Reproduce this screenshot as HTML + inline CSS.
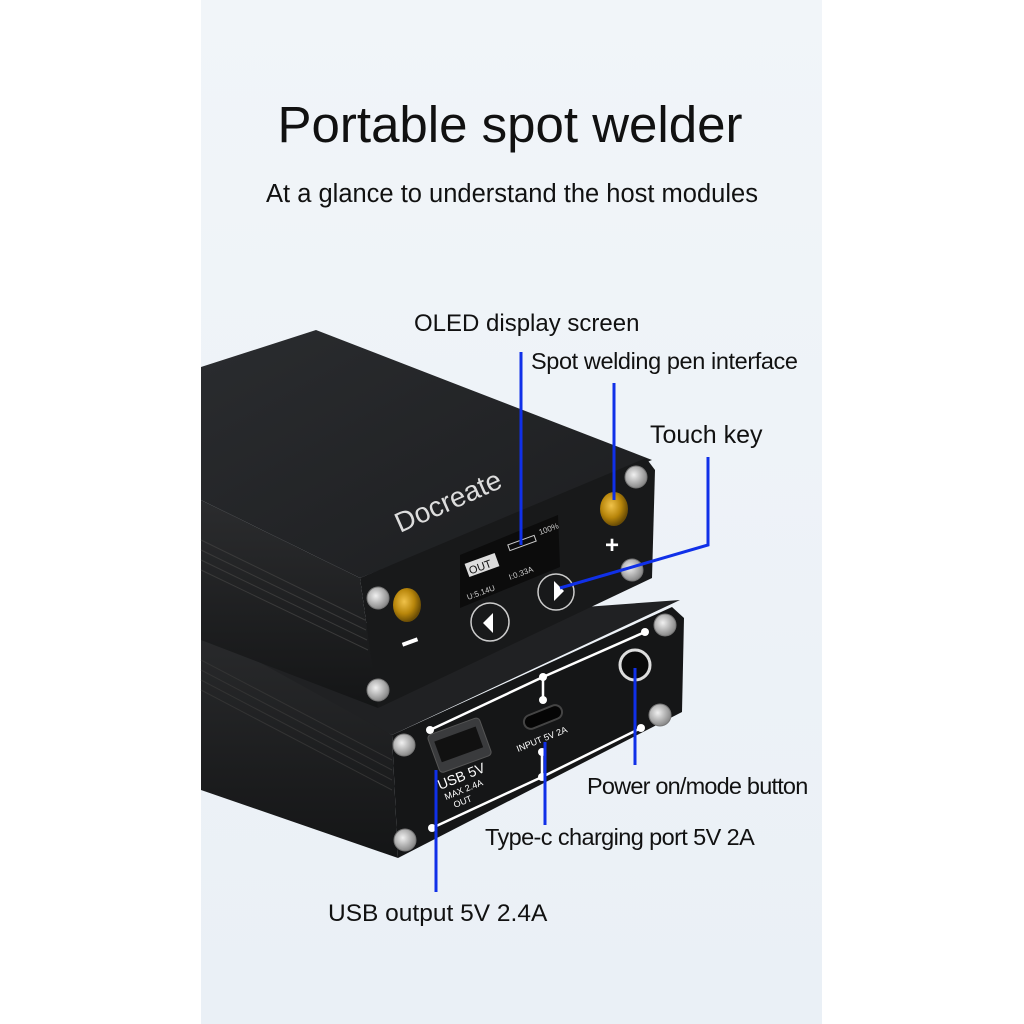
<!DOCTYPE html>
<html><head><meta charset="utf-8"><style>
html,body{margin:0;padding:0;background:#fff;}
body{width:1024px;height:1024px;position:relative;overflow:hidden;font-family:"Liberation Sans",sans-serif;}
.panel{position:absolute;left:201px;top:0;width:621px;height:1024px;background:linear-gradient(#f1f5f9,#eaf0f6);}
.t{position:absolute;color:#111;white-space:nowrap;}
</style></head><body>
<div class="panel"></div>
<svg width="1024" height="1024" style="position:absolute;left:0;top:0">
<defs>
<linearGradient id="top" x1="0" y1="0" x2="1" y2="1"><stop offset="0" stop-color="#2a2c2f"/><stop offset="1" stop-color="#1c1d1f"/></linearGradient>
<linearGradient id="side" x1="0" y1="0" x2="0" y2="1"><stop offset="0" stop-color="#2b2c2e"/><stop offset="1" stop-color="#141516"/></linearGradient>
<radialGradient id="gold" cx="0.4" cy="0.4" r="0.6"><stop offset="0" stop-color="#f0c24a"/><stop offset="0.6" stop-color="#b8860b"/><stop offset="1" stop-color="#6b4d05"/></radialGradient>
<radialGradient id="scr" cx="0.4" cy="0.4" r="0.6"><stop offset="0" stop-color="#f0f0f0"/><stop offset="1" stop-color="#8a8a8a"/></radialGradient>
</defs>
<polygon points="201,610 392,735 398,858 201,790" fill="url(#side)"/>
<polygon points="201,560 340,625 680,600 392,735 201,630" fill="#202123"/>
<polygon points="392,735 672,607 684,618 682,712 398,858" fill="#151617"/>
<g stroke="#333" stroke-width="1"><line x1="201" y1="660" x2="392" y2="760"/><line x1="201" y1="670" x2="392" y2="770"/><line x1="201" y1="680" x2="392" y2="780"/><line x1="201" y1="690" x2="392" y2="790"/></g>
<g stroke="#fff" stroke-width="2.5" fill="none">
<polyline points="430,730 543,677 543,700"/><line x1="543" y1="677" x2="645" y2="632"/>
<polyline points="432,828 542,777 542,752"/><line x1="542" y1="777" x2="641" y2="728"/>
</g>
<g fill="#fff"><circle cx="430" cy="730" r="4"/><circle cx="645" cy="632" r="4"/><circle cx="432" cy="828" r="4"/><circle cx="641" cy="728" r="4"/><circle cx="543" cy="677" r="4"/><circle cx="543" cy="700" r="4"/><circle cx="542" cy="752" r="4"/><circle cx="542" cy="777" r="4"/></g>
<rect x="432" y="725" width="55" height="40" rx="4" fill="#3a3b3d" stroke="#555" transform="rotate(-20 460 745)"/>
<rect x="437" y="733" width="44" height="22" fill="#111" transform="rotate(-20 460 745)"/>
<rect x="523" y="710" width="40" height="14" rx="7" fill="#050505" stroke="#444" stroke-width="2" transform="rotate(-22 543 717)"/>
<circle cx="635" cy="665" r="15" fill="#0a0a0a" stroke="#ddd" stroke-width="3"/>
<text x="440" y="790" fill="#fff" font-size="14" transform="rotate(-22 440 790)">USB 5V</text>
<text x="446" y="800" fill="#fff" font-size="9" transform="rotate(-22 446 800)">MAX 2.4A</text>
<text x="455" y="808" fill="#fff" font-size="9" transform="rotate(-22 455 808)">OUT</text>
<text x="518" y="752" fill="#fff" font-size="9" transform="rotate(-22 518 752)">INPUT 5V 2A</text>
<polygon points="201,367 316,330 652,460 360,578 201,500" fill="url(#top)"/>
<polygon points="201,500 360,578 378,708 201,640" fill="url(#side)"/>
<g stroke="#3a3a3a" stroke-width="1"><line x1="201" y1="540" x2="365" y2="620"/><line x1="201" y1="550" x2="366" y2="630"/><line x1="201" y1="560" x2="367" y2="640"/><line x1="201" y1="570" x2="368" y2="650"/></g>
<polygon points="360,578 646,458 655,470 652,578 378,708" fill="#18191a"/>
<text x="400" y="533" fill="#ddd" font-size="28" transform="rotate(-24 400 533)">Docreate</text>
<polygon points="460,555 558,515 560,567 460,608" fill="#0c0c0c"/>
<rect x="466" y="558" width="32" height="14" fill="#ddd" transform="rotate(-20 482 565)"/>
<text x="468" y="570" font-size="11" fill="#111" transform="rotate(-20 482 565)">OUT</text>
<text x="468" y="600" font-size="8" fill="#ccc" transform="rotate(-20 468 600)">U:5.14U</text>
<text x="510" y="580" font-size="8" fill="#ccc" transform="rotate(-20 510 580)">I:0.33A</text>
<text x="540" y="535" font-size="8" fill="#ccc" transform="rotate(-20 540 535)">100%</text>
<rect x="508" y="540" width="28" height="6" fill="none" stroke="#ccc" transform="rotate(-20 522 543)"/>
<circle cx="490" cy="622" r="19" fill="none" stroke="#ccc" stroke-width="1.5"/><polygon points="483,623 493,613 493,633" fill="#fff"/>
<circle cx="556" cy="592" r="18" fill="none" stroke="#ccc" stroke-width="1.5"/><polygon points="564,591 554,581 554,601" fill="#fff"/>
<ellipse cx="407" cy="605" rx="14" ry="17" fill="url(#gold)"/>
<ellipse cx="614" cy="509" rx="14" ry="17" fill="url(#gold)"/>
<rect x="402" y="640" width="16" height="4" fill="#fff" transform="rotate(-20 410 642)"/>
<text x="605" y="553" fill="#fff" font-size="24" font-weight="bold">+</text>
<g fill="url(#scr)" stroke="#777" stroke-width="1">
<circle cx="378" cy="598" r="11"/><circle cx="378" cy="690" r="11"/><circle cx="636" cy="477" r="11"/><circle cx="632" cy="570" r="11"/>
<circle cx="404" cy="745" r="11"/><circle cx="405" cy="840" r="11"/><circle cx="665" cy="625" r="11"/><circle cx="660" cy="715" r="11"/>
</g>
<g stroke="#1030e8" stroke-width="3" fill="none">
<line x1="521" y1="352" x2="521" y2="545"/>
<line x1="614" y1="383" x2="614" y2="500"/>
<polyline points="708,457 708,545 560,588"/>
<line x1="635" y1="668" x2="635" y2="765"/>
<line x1="545" y1="742" x2="545" y2="825"/>
<line x1="436" y1="770" x2="436" y2="892"/>
</g>
</svg>
<div class="t" style="left:0;width:1020px;text-align:center;top:95px;font-size:51px;font-weight:500;">Portable spot welder</div>
<div class="t" style="left:0;width:1024px;text-align:center;top:180px;font-size:25.5px;">At a glance to understand the host modules</div>
<div class="t" style="left:414px;top:310px;font-size:24px;">OLED display screen</div>
<div class="t" style="left:531px;top:348px;font-size:23.5px;letter-spacing:-0.4px;">Spot welding pen interface</div>
<div class="t" style="left:650px;top:421px;font-size:25px;">Touch key</div>
<div class="t" style="left:587px;top:773px;font-size:23.5px;letter-spacing:-0.8px;">Power on/mode button</div>
<div class="t" style="left:485px;top:824px;font-size:23.5px;letter-spacing:-0.6px;">Type-c charging port 5V 2A</div>
<div class="t" style="left:328px;top:900px;font-size:24.5px;">USB output 5V 2.4A</div>
</body></html>
